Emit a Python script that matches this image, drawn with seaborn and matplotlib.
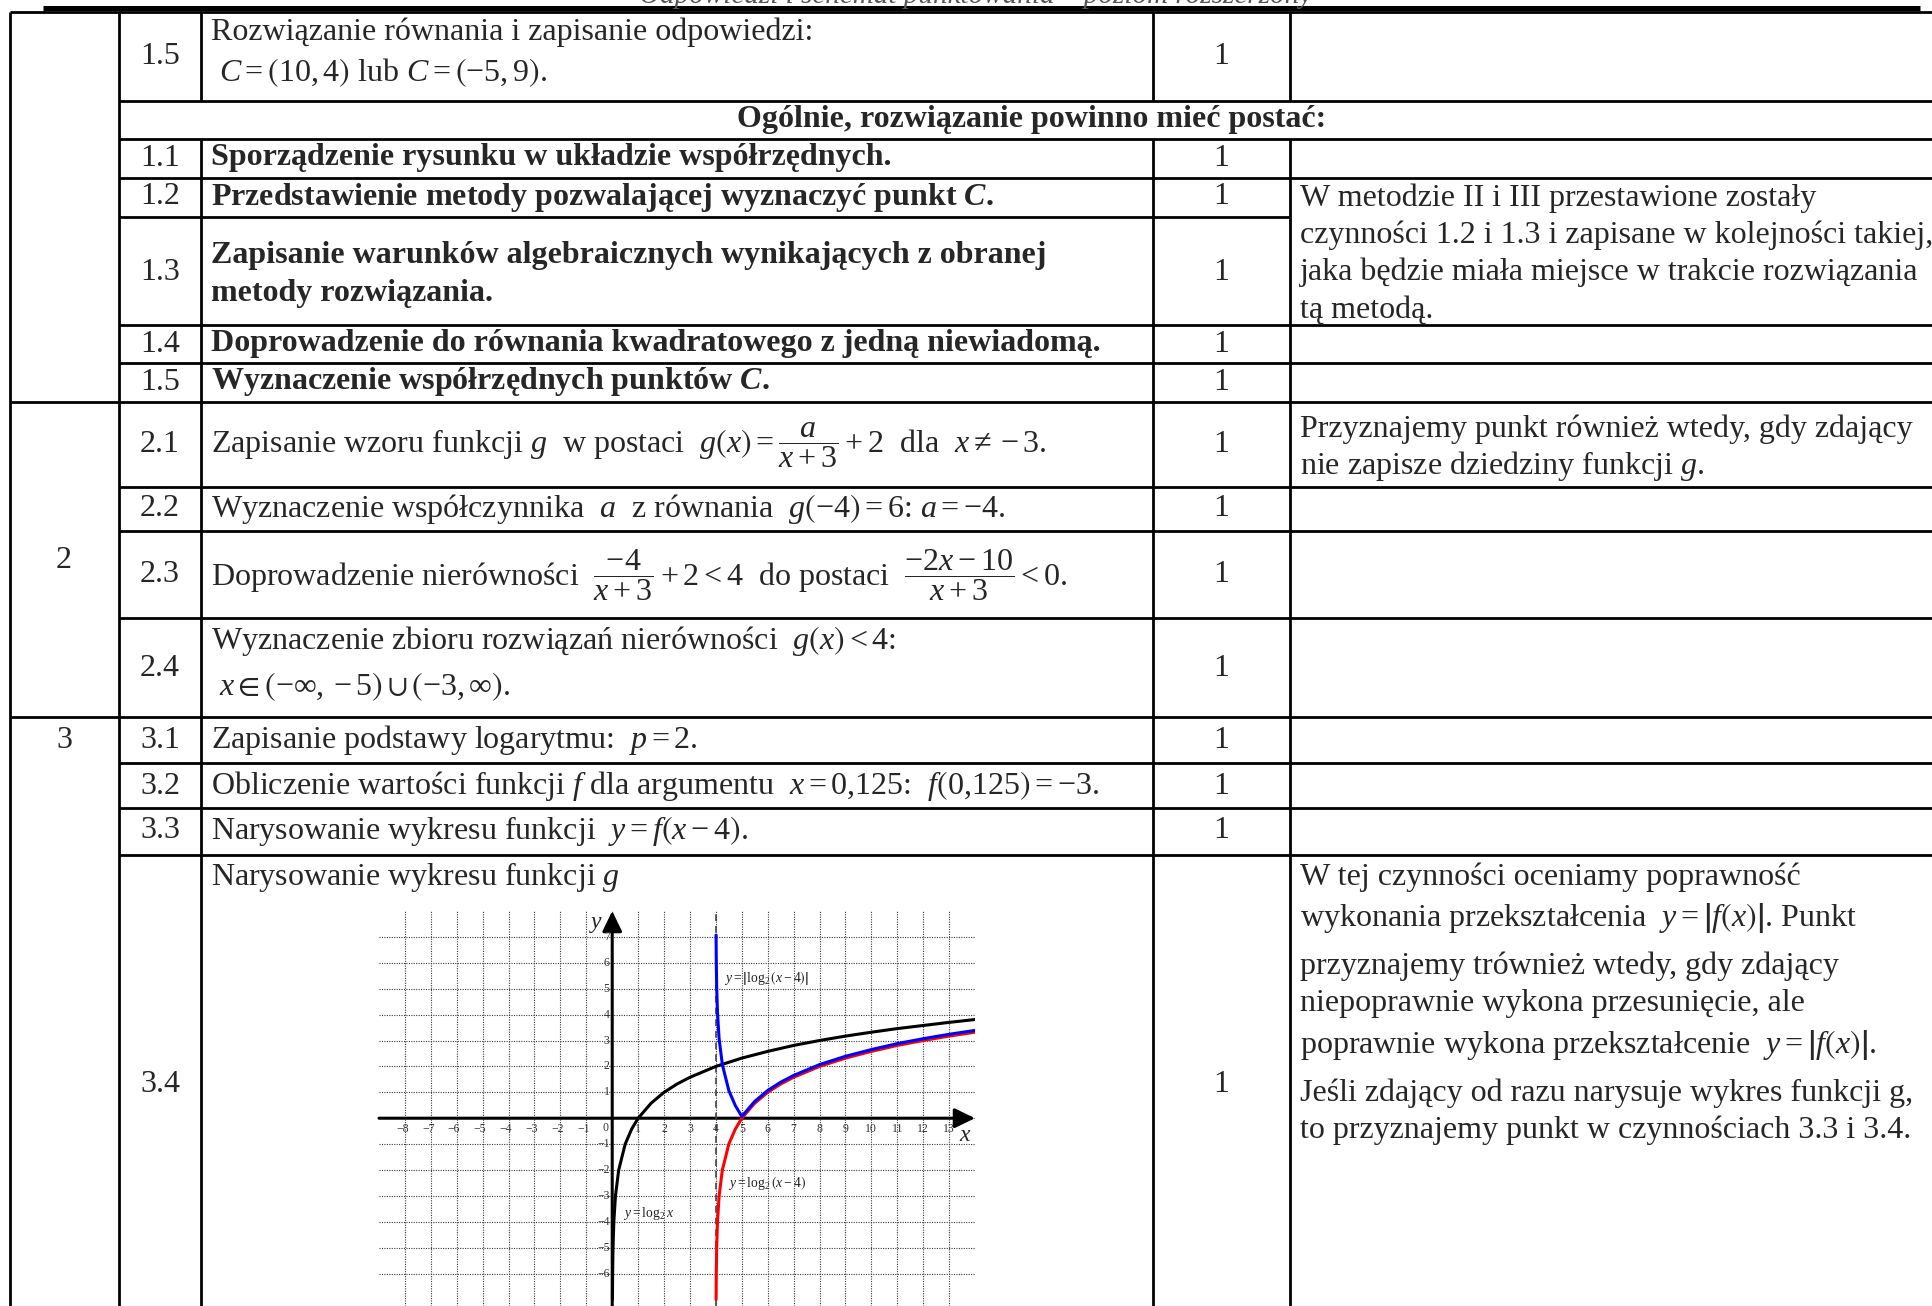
import numpy as np
import pandas as pd
import seaborn as sns
import matplotlib.pyplot as plt
from matplotlib.transforms import ScaledTranslation

# =============================================================================
# Data
# =============================================================================

# y = log2 x
black_x = [0.0078, 0.0156, 0.031, 0.0625, 0.125, 0.25, 0.5, 0.75, 1, 1.5, 2, 2.5,
           3, 4, 5, 6, 7, 8, 9, 10, 11, 12, 13, 14]
black_y = [-7, -6, -5, -4, -3, -2, -1, -0.42, 0, 0.58, 1, 1.32,
           1.58, 2, 2.32, 2.58, 2.81, 3, 3.17, 3.32, 3.46, 3.58, 3.70, 3.81]

# y = log2(x-4)
red_x = [4.0078, 4.0156, 4.031, 4.0625, 4.125, 4.25, 4.5, 4.75, 5, 5.5, 6, 6.5,
         7, 8, 9, 10, 11, 12, 13, 14]
red_y = [-7, -6, -5, -4, -3, -2, -1, -0.42, 0, 0.58, 1, 1.32,
         1.58, 2, 2.32, 2.58, 2.81, 3, 3.17, 3.32]

# y = |log2(x-4)|
blue_x = red_x
blue_y = [7, 6, 5, 4, 3, 2, 1, 0.42, 0, 0.58, 1, 1.32,
          1.58, 2, 2.32, 2.58, 2.81, 3, 3.17, 3.32]

x_ticks = [-8, -7, -6, -5, -4, -3, -2, -1, 1, 2, 3, 4, 5, 6, 7, 8, 9, 10, 11, 12, 13]
y_ticks = [-6, -5, -4, -3, -2, -1, 1, 2, 3, 4, 5, 6, 7]

# table contents
row_ids = ['1.5', '1.1', '1.2', '1.3', '1.4', '1.5',
           '2.1', '2.2', '2.3', '2.4', '3.1', '3.2', '3.3', '3.4']
row_texts = [
    ['Rozwiązanie równania i zapisanie odpowiedzi:',
     r' $C=\left(10,4\right)$ lub $C=\left(-5,9\right)$.'],
    ['Sporządzenie rysunku w układzie współrzędnych.'],
    [r'Przedstawienie metody pozwalającej wyznaczyć punkt $\mathbf{C}$.'],
    ['Zapisanie warunków algebraicznych wynikających z obranej',
     'metody rozwiązania.'],
    ['Doprowadzenie do równania kwadratowego z jedną niewiadomą.'],
    [r'Wyznaczenie współrzędnych punktów $\mathbf{C}$.'],
    [r'Zapisanie wzoru funkcji $g$  w postaci  $g\left(x\right)=\dfrac{a}{x+3}+2$  dla  $x\neq-3$.'],
    [r'Wyznaczenie współczynnika  $a$  z równania  $g\left(-4\right)=6$: $a=-4$.'],
    [r'Doprowadzenie nierówności  $\dfrac{-4}{x+3}+2<4$  do postaci  $\dfrac{-2x-10}{x+3}<0$.'],
    [r'Wyznaczenie zbioru rozwiązań nierówności  $g\left(x\right)<4$:',
     r' $x\in\left(-\infty,-5\right)\cup\left(-3,\infty\right)$.'],
    [r'Zapisanie podstawy logarytmu:  $p=2$.'],
    [r'Obliczenie wartości funkcji $f$ dla argumentu  $x=0{,}125$:  $f\left(0{,}125\right)=-3$.'],
    [r'Narysowanie wykresu funkcji  $y=f\left(x-4\right)$.'],
    [r'Narysowanie wykresu funkcji $g$'],
]
row_bold = [False, True, True, True, True, True,
            False, False, False, False, False, False, False, False]
row_points = ['1'] * 14

section_ids = ['2', '3']
summary_title = 'Ogólnie, rozwiązanie powinno mieć postać:'
header_text = 'Odpowiedzi i schemat punktowania – poziom rozszerzony'

notes = [
    ['W metodzie II i III przestawione zostały',
     'czynności 1.2 i 1.3 i zapisane w kolejności takiej,',
     'jaka będzie miała miejsce w trakcie rozwiązania',
     'tą metodą.'],
    ['Przyznajemy punkt również wtedy, gdy zdający',
     r'nie zapisze dziedziny funkcji $g$.'],
    ['W tej czynności oceniamy poprawność',
     r'wykonania przekształcenia  $y=\left|f\left(x\right)\right|$. Punkt',
     'przyznajemy trównież wtedy, gdy zdający',
     'niepoprawnie wykona przesunięcie, ale',
     r'poprawnie wykona przekształcenie  $y=\left|f\left(x\right)\right|$.',
     'Jeśli zdający od razu narysuje wykres funkcji g,',
     'to przyznajemy punkt w czynnościach 3.3 i 3.4.'],
]

# =============================================================================
# Layout (pixels, y from the top)
# =============================================================================

W, H = 1932, 1306
row_text_y = [[32, 73], [158], [197], [255, 293], [344], [382],
              [445], [509], [575], [641, 687], [740], [786], [831], [877]]
row_mid_y = [57, 158, 197, 272, 344, 382, 445, 509, 575, 668, 740, 786, 831, 1084]
note_y = [[198, 235, 272, 310], [429, 466],
          [877, 918, 966, 1004, 1045, 1093, 1130]]
section_y = [560, 740]

sns.set_theme(style='white')
plt.rcParams['font.family'] = ['Liberation Serif', 'DejaVu Serif']
plt.rcParams['mathtext.fontset'] = 'custom'
plt.rcParams['mathtext.rm'] = 'Liberation Serif'
plt.rcParams['mathtext.it'] = 'Liberation Serif:italic'
plt.rcParams['mathtext.bf'] = 'Liberation Serif:italic:bold'
plt.rcParams['mathtext.fallback'] = 'stix'

fig = plt.figure(figsize=(W / 100, H / 100), dpi=100)
ax = fig.add_axes([0, 0, 1, 1])
ax.set_xlim(0, W)
ax.set_ylim(H, 0)
ax.axis('off')

lw = 2.0
fs = 23


def hl(y, x0, x1=W, w=lw):
    ax.plot([x0, x1], [y, y], color='black', lw=w, solid_capstyle='butt')


def vl(x, y0, y1=H, w=lw):
    ax.plot([x, x], [y0, y1], color='black', lw=w, solid_capstyle='butt')


# header (cut by the page edge, as in the scan) and borders
ax.text(976, 3, header_text, ha='center', va='baseline', fontsize=21,
        style='italic', color='#555555')
hl(8, 43, 1920, w=3.6)
hl(12, 10)
for y in [101, 139, 178, 325, 363, 487, 531, 618, 763, 808, 855]:
    hl(y, 119)
hl(217, 119, 1290)
hl(402, 10)
hl(717, 10)
vl(10, 12)
vl(119, 12)
for x in [201, 1153, 1290]:
    vl(x, 12, 101)
    vl(x, 139)

# table text
for rid, lines, bold, pts, ys, ym in zip(row_ids, row_texts, row_bold, row_points,
                                         row_text_y, row_mid_y):
    ax.text(160, ym, rid, ha='center', va='center', fontsize=fs)
    ax.text(1221, ym, pts, ha='center', va='center', fontsize=fs)
    for line, y in zip(lines, ys):
        ax.text(211, y, line, ha='left', va='center', fontsize=fs,
                fontweight='bold' if bold else 'normal')

ax.text(1032, 120, summary_title, ha='center', va='center', fontsize=fs,
        fontweight='bold')
for sid, y in zip(section_ids, section_y):
    ax.text(64, y, sid, ha='center', va='center', fontsize=fs)
for block, ys in zip(notes, note_y):
    for line, y in zip(block, ys):
        ax.text(1300, y, line, ha='left', va='center', fontsize=fs)

# =============================================================================
# Graph of g
# =============================================================================

gx = fig.add_axes([379 / W, 0, 596 / W, 395 / H])
gx.patch.set_alpha(0)

grid_kw = dict(color='#3a3a3a', lw=0.8, linestyles=(0, (1, 1.2)))
gx.vlines(x_ticks + [0], -7.25, 8, **grid_kw)
gx.hlines(y_ticks + [0], -9, 14, **grid_kw)

arrow = dict(arrowstyle='-|>,head_length=0.62,head_width=0.3',
             mutation_scale=20, lw=2.2, color='black', shrinkA=0, shrinkB=0)
gx.annotate('', xy=(14, 0), xytext=(-9, 0), arrowprops=arrow, zorder=2)
gx.annotate('', xy=(0, 8), xytext=(0, -7.25), arrowprops=arrow, zorder=2)
gx.plot([4, 4], [-7.25, 8], color='#444444', lw=1.2, ls=(0, (4, 3)))

df_black = pd.DataFrame({'x': black_x, 'y': black_y})
df_red = pd.DataFrame({'x': red_x, 'y': red_y})
df_blue = pd.DataFrame({'x': blue_x, 'y': blue_y})
sns.lineplot(data=df_black, x='x', y='y', ax=gx, color='black', lw=2.2,
             estimator=None, sort=False)
sns.lineplot(data=df_red, x='x', y='y', ax=gx, color='#ff0000', lw=2.2,
             estimator=None, sort=False)
sns.lineplot(data=df_blue, x='x', y='y', ax=gx, color='#0000ff', lw=2.2,
             estimator=None, sort=False)
gx.lines[-1].set_transform(gx.transData + ScaledTranslation(0, 1.3 / 72, fig.dpi_scale_trans))
gx.axis('off')
gx.set_xlim(-9, 14)
gx.set_ylim(-7.25, 8)

tfs = 8.5
tick_col = '#333333'
for t in x_ticks:
    if t < 0:
        gx.text(t + 0.14, -0.42, '−' + str(-t), ha='right', va='center',
                fontsize=tfs, color=tick_col, zorder=6)
    else:
        gx.text(t, -0.42, str(t), ha='center', va='center', fontsize=tfs,
                color=tick_col, zorder=6)
for t in y_ticks:
    gx.text(-0.1, t, str(t).replace('-', '−'), ha='right', va='center',
            fontsize=tfs, color=tick_col, zorder=6)
gx.text(-0.25, -0.38, '0', ha='center', va='center', fontsize=tfs, color=tick_col)
gx.text(13.6, -0.65, 'x', ha='center', va='center', fontsize=17, style='italic')
gx.text(-0.6, 7.55, 'y', ha='center', va='center', fontsize=17, style='italic')

lab_fs = 9.8
gx.text(4.32, 5.4, r'$y=\left|\log_2\left(x-4\right)\right|$', fontsize=lab_fs,
        va='center', color='#222222')
gx.text(4.48, -2.5, r'$y=\log_2\left(x-4\right)$', fontsize=lab_fs,
        va='center', color='#222222')
gx.text(0.42, -3.67, r'$y=\log_2 x$', fontsize=lab_fs, va='center', color='#222222')

fig.savefig('out.png', dpi=100)
